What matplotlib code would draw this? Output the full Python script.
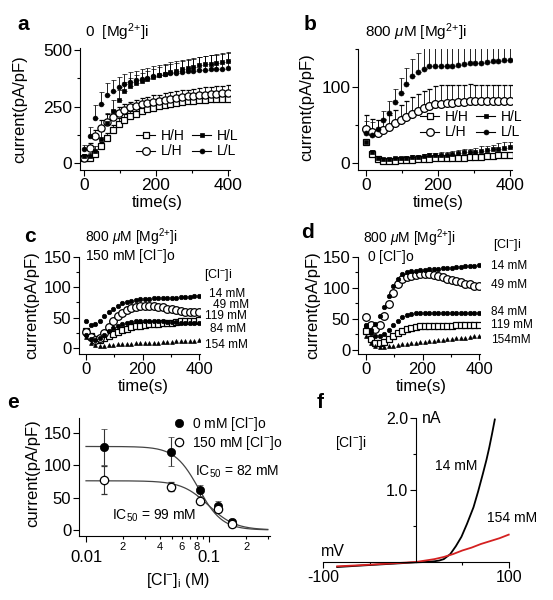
import matplotlib
matplotlib.use('Agg')
import matplotlib.pyplot as plt
from matplotlib.lines import Line2D
from matplotlib.ticker import FuncFormatter
import numpy as np

plt.rcParams['font.family'] = ['Liberation Sans', 'DejaVu Sans']
plt.rcParams['mathtext.fontset'] = 'custom'
plt.rcParams['mathtext.rm'] = 'Liberation Sans'
plt.rcParams['mathtext.it'] = 'Liberation Sans:italic'
plt.rcParams['mathtext.bf'] = 'Liberation Sans:bold'
plt.rcParams['axes.linewidth'] = 0.8

# sampling every 16 s for all time courses
t_run = np.arange(0, 401, 16)

# ---- panel a: 0 Mg
a_LL = [60, 120, 200, 260, 300, 320, 337, 350, 360, 367, 372, 378, 384, 389, 393, 397, 400, 403, 405, 407, 410, 412, 414, 416, 418, 420]
a_LL_err = [20, 40, 55, 55, 52, 48, 45, 43, 42, 42, 42, 43, 44, 45, 47, 48, 50, 52, 54, 56, 58, 60, 62, 64, 66, 68]
a_HL = [30, 32, 55, 105, 175, 230, 280, 318, 340, 355, 362, 370, 380, 388, 396, 402, 408, 415, 420, 425, 432, 436, 440, 444, 447, 450]
a_HL_err = [10, 12, 20, 35, 48, 50, 45, 40, 38, 36, 36, 36, 36, 36, 36, 36, 36, 36, 37, 37, 38, 38, 39, 39, 40, 40]
a_LH = [20, 68, 118, 155, 183, 205, 222, 236, 246, 254, 260, 266, 272, 276, 281, 285, 289, 292, 295, 298, 300, 303, 305, 307, 309, 310]
a_LH_err = [10, 20, 30, 35, 33, 30, 28, 27, 26, 26, 26, 26, 27, 27, 28, 28, 29, 30, 30, 31, 31, 32, 33, 33, 34, 35]
a_HH = [20, 21, 40, 75, 112, 145, 172, 192, 206, 218, 228, 237, 245, 251, 257, 262, 266, 270, 273, 276, 278, 280, 282, 283, 284, 285]
a_HH_err = [8, 8, 12, 18, 22, 25, 25, 25, 25, 25, 25, 25, 25, 25, 25, 25, 25, 26, 26, 26, 27, 27, 27, 28, 28, 28]

# ---- panel b: 800 uM Mg
b_LL = [40, 37, 45, 56, 66, 80, 92, 104, 114, 120, 124, 127, 128, 128, 128, 128, 129, 130, 131, 131, 132, 133, 134, 134, 135, 136]
b_LL_err = [15, 17, 12, 12, 16, 18, 20, 21, 23, 25, 27, 28, 29, 29, 29, 29, 28, 27, 26, 26, 25, 24, 23, 23, 22, 21]
b_LH = [45, 41, 40, 43, 47, 52, 57, 61, 65, 69, 72, 75, 77, 78, 79, 79, 80, 80, 81, 81, 81, 81, 81, 81, 81, 81]
b_LH_err = [18, 17, 16, 15, 16, 18, 19, 21, 22, 22, 23, 23, 24, 24, 24, 24, 23, 23, 23, 22, 22, 22, 22, 22, 22, 22]
b_HL = [27, 14, 7, 5, 5, 6, 6, 7, 8, 8, 9, 10, 10, 11, 11, 12, 13, 14, 14, 15, 16, 17, 18, 19, 20, 21]
b_HL_err = [3, 3, 2, 2, 2, 2, 2, 2, 3, 3, 3, 3, 3, 3, 4, 4, 4, 5, 5, 5, 6, 6, 6, 7, 7, 7]
b_HH = [28, 12, 5, 3, 3, 3, 4, 4, 4, 5, 5, 5, 6, 6, 6, 6, 7, 7, 8, 8, 8, 9, 9, 10, 10, 11]
b_HH_err = [2, 2, 1, 1, 1, 1, 1, 1, 1, 1, 1, 1, 1, 1, 1, 1, 2, 2, 2, 2, 2, 2, 2, 2, 2, 2]

# ---- panels c, d: [Cl-]i series
c_14 = [45, 38, 40, 45, 52, 59, 65, 70, 74, 76, 78, 79, 80, 81, 81, 82, 82, 82, 83, 83, 83, 84, 84, 84, 85, 85]
c_49 = [27, 18, 14, 17, 24, 34, 44, 52, 58, 63, 66, 68, 69, 70, 70, 69, 68, 67, 65, 64, 62, 61, 60, 60, 59, 59]
c_84 = [22, 15, 13, 16, 22, 28, 33, 37, 40, 42, 43, 44, 44, 45, 45, 45, 44, 44, 43, 43, 43, 42, 42, 42, 42, 42]
c_119 = [28, 20, 15, 14, 16, 19, 23, 27, 30, 32, 34, 36, 37, 38, 39, 40, 40, 41, 42, 42, 43, 44, 44, 45, 45, 46]
c_154 = [18, 8, 5, 4, 4, 5, 5, 6, 6, 7, 7, 8, 8, 8, 9, 9, 9, 10, 10, 10, 11, 11, 12, 12, 12, 13]

d_14 = [40, 33, 42, 55, 70, 87, 103, 115, 122, 125, 127, 128, 129, 129, 130, 131, 131, 132, 133, 133, 134, 134, 135, 135, 136, 137]
d_49 = [53, 40, 34, 40, 55, 74, 92, 106, 114, 118, 120, 121, 122, 122, 122, 121, 119, 117, 115, 113, 111, 109, 107, 106, 104, 103]
d_84 = [38, 28, 23, 22, 25, 32, 40, 47, 53, 56, 58, 59, 60, 60, 60, 60, 59, 59, 59, 59, 59, 59, 59, 60, 60, 60]
d_119 = [30, 18, 12, 11, 13, 17, 22, 27, 31, 34, 36, 37, 38, 38, 38, 38, 39, 39, 39, 39, 40, 40, 40, 40, 40, 40]
d_154 = [22, 12, 7, 5, 5, 6, 7, 8, 9, 10, 11, 12, 13, 13, 14, 15, 16, 16, 17, 18, 19, 20, 20, 21, 22, 23]

# ---- panel e: dose response
cl_conc = [0.014, 0.049, 0.084, 0.119, 0.154]
e_0 = [128, 121, 61, 37, 12]
e_0_err = [28, 22, 8, 7, 5]
e_150 = [77, 67, 45, 33, 9]
e_150_err = [22, 7, 5, 5, 3]
fit_0 = (129, 0.082, 4.5)     # top, IC50, Hill n
fit_150 = (76, 0.099, 4.0)

# ---- panel f: I-V ramps
v_14 = [-85, -60, -40, -20, 0, 10, 20, 25, 30, 37, 43, 49, 55, 62, 67, 72, 76, 79, 82, 85]
i_14 = [-0.07, -0.05, -0.035, -0.02, -0.005, 0.0, 0.01, 0.02, 0.04, 0.11, 0.22, 0.35, 0.53, 0.76, 0.98, 1.22, 1.42, 1.59, 1.78, 1.98]
v_154 = [-85, -60, -40, -20, 0, 10, 20, 30, 40, 50, 60, 70, 80, 90, 100]
i_154 = [-0.06, -0.045, -0.03, -0.015, 0.0, 0.02, 0.04, 0.07, 0.11, 0.16, 0.2, 0.25, 0.29, 0.33, 0.38]

W, H = 553, 600
fig = plt.figure(figsize=(W / 100, H / 100), dpi=100)


def box(l, t, r, b):
    return fig.add_axes([l / W, 1 - b / H, (r - l) / W, (b - t) / H])


def ftext(x, y, s, **kw):
    kw.setdefault('va', 'center')
    return fig.text(x / W, 1 - y / H, s, **kw)


def origin_style(ax, fs):
    for s in ('top', 'right'):
        ax.spines[s].set_visible(False)
    ax.tick_params(which='major', direction='out', length=4, width=0.8, labelsize=fs, pad=1.5)
    ax.tick_params(which='minor', direction='out', length=2.5, width=0.8)


open_kw = dict(mfc='white', mec='black', mew=0.9)
fill_kw = dict(mfc='black', mec='black', mew=0.5)


def time_panel(ax, series):
    for y, err, mk, ms, kw in series:
        ax.errorbar(t_run, y, yerr=[np.zeros(len(err)), err], fmt=mk, ms=ms, color='black',
                    ecolor='black', elinewidth=0.6, capsize=1.8, capthick=0.6, **kw)


MG = r'[Mg$^{2{+}}$]i'
CL = r'[Cl$^{-}$]'

handles = [Line2D([], [], color='black', lw=0.8, marker='s', ms=5, **open_kw),
           Line2D([], [], color='black', lw=0.8, marker='o', ms=5.5, **open_kw),
           Line2D([], [], color='black', lw=0.8, marker='s', ms=3.5, **fill_kw),
           Line2D([], [], color='black', lw=0.8, marker='o', ms=3.5, **fill_kw)]
labels = ['H/H', 'L/H', 'H/L', 'L/L']
leg_kw = dict(ncol=2, loc='upper left', bbox_transform=fig.transFigure, frameon=False,
              fontsize=10, handlelength=1.4, handletextpad=0.4, columnspacing=0.5,
              labelspacing=0.1, borderpad=0, borderaxespad=0)

# ---------------- a
ax = box(80, 48, 230, 170)
time_panel(ax, [(a_HH, a_HH_err, 's', 5, open_kw), (a_LH, a_LH_err, 'o', 5.2, open_kw),
                (a_HL, a_HL_err, 's', 3.3, fill_kw), (a_LL, a_LL_err, 'o', 3.4, fill_kw)])
ax.set_xlim(-11, 405.6)
ax.set_ylim(-31, 509)
ax.set_xticks([0, 200, 400])
ax.set_xticks([100, 300], minor=True)
ax.set_yticks([0, 250, 500])
ax.set_yticks([125, 375], minor=True)
origin_style(ax, 12.5)
ax.legend(handles, labels, bbox_to_anchor=(136 / W, 1 - 129 / H), **leg_kw)
ftext(23, 25, 'a', fontsize=15, fontweight='bold', ha='center')
ftext(85, 32, '0  ' + MG, fontsize=11, ha='left')
ftext(20, 109, 'current(pA/pF)', fontsize=12, rotation=90, ha='center')
ftext(157, 203, 'time(s)', fontsize=12, ha='center')

# ---------------- b
ax = box(358, 49, 512, 170)
time_panel(ax, [(b_HH, b_HH_err, 's', 5, open_kw), (b_LH, b_LH_err, 'o', 5.6, open_kw),
                (b_HL, b_HL_err, 's', 3.3, fill_kw), (b_LL, b_LL_err, 'o', 3.6, fill_kw)])
ax.set_xlim(-22.2, 405.6)
ax.set_ylim(-9.2, 150)
ax.set_xticks([0, 200, 400])
ax.set_xticks([100, 300], minor=True)
ax.set_yticks([0, 100])
ax.set_yticks([50, 150], minor=True)
origin_style(ax, 12.5)
ax.legend(handles, labels, bbox_to_anchor=(420 / W, 1 - 110 / H), **leg_kw)
ftext(310, 25, 'b', fontsize=15, fontweight='bold', ha='center')
ftext(365, 32, r'800 $\mu$M ' + MG, fontsize=11, ha='left')
ftext(307, 107, 'current(pA/pF)', fontsize=12, rotation=90, ha='center')
ftext(438, 203, 'time(s)', fontsize=12, ha='center')


# ---------------- c, d
def cl_panel(ax, s14, s49, s84, s119, s154):
    ax.plot(t_run, s119, 's', ms=5, ls='none', **open_kw)
    ax.plot(t_run, s49, 'o', ms=5.5, ls='none', **open_kw)
    ax.plot(t_run, s84, 'o', ms=3.2, ls='none', **fill_kw)
    ax.plot(t_run, s14, 'o', ms=3.2, ls='none', **fill_kw)
    ax.plot(t_run, s154, '^', ms=2.8, ls='none', **fill_kw)
    ax.set_xticks([0, 200, 400])
    ax.set_xticks([100, 300], minor=True)
    ax.set_yticks([0, 50, 100, 150])
    ax.set_yticks([25, 75, 125], minor=True)
    origin_style(ax, 12)


ax = box(79, 257, 200, 354)
cl_panel(ax, c_14, c_49, c_84, c_119, c_154)
ax.set_xlim(-24.8, 403.5)
ax.set_ylim(-9.9, 150)
ftext(30, 237, 'c', fontsize=15, fontweight='bold', ha='center')
ftext(85, 237, r'800 $\mu$M ' + MG, fontsize=10, ha='left')
ftext(85, 256, '150 mM ' + CL + 'o', fontsize=10, ha='left')
ftext(204, 275, CL + 'i', fontsize=9, ha='left')
for lab, x, y in [('14 mM', 209, 294), ('49 mM', 213, 305), ('119 mM', 205, 316),
                  ('84 mM', 210, 329), ('154 mM', 205, 345)]:
    ftext(x, y, lab, fontsize=8.5, ha='left')
ftext(32, 305, 'current(pA/pF)', fontsize=12, rotation=90, ha='center')
ftext(143, 386, 'time(s)', fontsize=12, ha='center')

ax = box(358, 257, 480, 354)
cl_panel(ax, d_14, d_49, d_84, d_119, d_154)
ax.set_xlim(-28.3, 403.5)
ax.set_ylim(-6.5, 150)
ftext(307, 233, 'd', fontsize=15, fontweight='bold', ha='center')
ftext(363, 238, r'800 $\mu$M ' + MG, fontsize=10, ha='left')
ftext(367, 257, '0 ' + CL + 'o', fontsize=10, ha='left')
ftext(493, 245, CL + 'i', fontsize=9, ha='left')
for lab, x, y in [('14 mM', 491, 266), ('49 mM', 491, 285), ('84 mM', 491, 312),
                  ('119 mM', 491, 325), ('154mM', 491, 340)]:
    ftext(x, y, lab, fontsize=8.5, ha='left')
ftext(313, 305, 'current(pA/pF)', fontsize=12, rotation=90, ha='center')
ftext(421, 386, 'time(s)', fontsize=12, ha='center')

# ---------------- e
ax = box(79, 418, 270, 536)
ax.set_xscale('log')
xs = np.logspace(-2, np.log10(0.3), 200)
for top, ic50, n in (fit_0, fit_150):
    ax.plot(xs, top / (1 + (xs / ic50) ** n), color='#444444', lw=0.9)
ax.errorbar(cl_conc, e_0, yerr=e_0_err, fmt='o', ms=6, color='black', ecolor='#333333',
            elinewidth=0.8, capsize=2.5, capthick=0.8, **fill_kw)
ax.errorbar(cl_conc, e_150, yerr=e_150_err, fmt='o', ms=6, color='black', ecolor='#333333',
            elinewidth=0.8, capsize=2.5, capthick=0.8, **open_kw)
ax.set_xlim(0.00877, 0.313)
ax.set_ylim(-9.3, 173)
ax.set_yticks([0, 50, 100, 150])
ax.set_xticks([0.01, 0.1])
ax.set_xticklabels(['0.01', '0.1'])
minor = [k * 0.01 for k in range(2, 10)] + [0.2, 0.3]
ax.set_xticks(minor, minor=True)


def minor_fmt(v, pos):
    m = int(round(v / 10 ** np.floor(np.log10(v) + 1e-9)))
    return str(m) if m in (2, 4, 6, 8) else ''


ax.xaxis.set_minor_formatter(FuncFormatter(minor_fmt))
origin_style(ax, 12)
ax.tick_params(axis='x', which='major', pad=6)
ax.tick_params(axis='x', which='minor', labelsize=8, pad=1.5)
ax.legend([Line2D([], [], ls='none', marker='o', ms=6, **fill_kw),
           Line2D([], [], ls='none', marker='o', ms=6, **open_kw)],
          ['0 mM ' + CL + 'o', '150 mM ' + CL + 'o'], loc='upper left',
          bbox_to_anchor=(173 / W, 1 - 415 / H), bbox_transform=fig.transFigure, frameon=False,
          fontsize=10, handlelength=0.8, handletextpad=0.6, labelspacing=0.05, borderpad=0,
          borderaxespad=0)
ftext(13, 403, 'e', fontsize=15, fontweight='bold', ha='center')
ftext(195, 472, r'IC$_{50}$ = 82 mM', fontsize=10, ha='left')
ftext(112, 516, r'IC$_{50}$ = 99 mM', fontsize=10, ha='left')
ftext(33, 473, 'current(pA/pF)', fontsize=12, rotation=90, ha='center')
ftext(178, 580, CL + r'$_{\mathrm{i}}$ (M)', fontsize=11.5, ha='center')

# ---------------- f
ax = box(314, 414, 518, 573)
ax.plot(v_14, i_14, color='black', lw=1.3)
ax.plot(v_154, i_154, color='#d42020', lw=1.3)
ax.set_xlim(-110, 110)
ax.set_ylim(-0.153, 2.056)
ax.spines['left'].set_position(('data', 0))
ax.spines['bottom'].set_position(('data', 0))
ax.spines['left'].set_bounds(0, 2.0)
ax.spines['bottom'].set_bounds(-100, 100)
for s in ('top', 'right'):
    ax.spines[s].set_visible(False)
ax.set_xticks([-100, 100])
ax.set_xticklabels(['-100', '100'])
ax.set_xticks([-50, 50], minor=True)
ax.set_yticks([1.0, 2.0])
ax.set_yticklabels(['1.0', '2.0'])
ax.set_yticks([0.5, 1.5], minor=True)
ax.tick_params(which='major', direction='out', length=4, width=0.8, labelsize=11.5, pad=1.5)
ax.tick_params(which='minor', direction='out', length=2.5, width=0.8)
ax.text(6, 1.99, 'nA', fontsize=11.5, ha='left', va='center')
ax.text(-103, 0.15, 'mV', fontsize=11.5, ha='left', va='center')
ax.text(-87, 1.65, CL + 'i', fontsize=10, ha='left', va='center')
ax.text(20, 1.33, '14 mM', fontsize=10, ha='left', va='center')
ax.text(77, 0.61, '154 mM', fontsize=10, ha='left', va='center')
ftext(320, 403, 'f', fontsize=15, fontweight='bold', ha='center')

fig.savefig('out.png', dpi=100)
